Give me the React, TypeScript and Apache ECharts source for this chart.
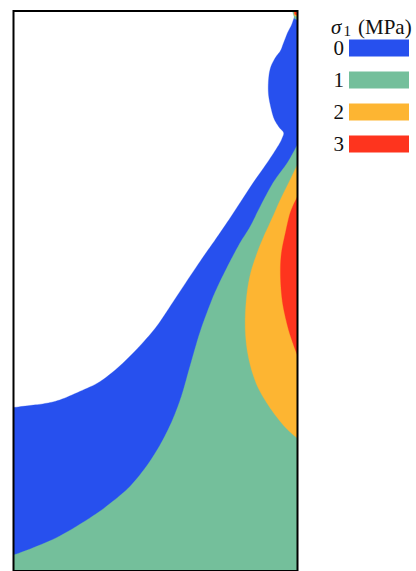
import React, { useEffect, useRef } from "react";
import * as echarts from "echarts";

// Contour levels of sigma_1 (MPa) and their fill colours
const levels = ["0", "1", "2", "3"];
const levelColors = ["#2750EE", "#74BF9B", "#FDB532", "#FE341E"];

// Domain: x from 0 (left) to 1 (right), y from 0 (bottom) to 2 (top)
// sigma_1 = 0 contour (white / blue), from the left edge to the top-right corner
const contour0: number[][] = [
  [0, 0.584], [0.057, 0.591], [0.11, 0.598], [0.163, 0.611], [0.233, 0.641],
  [0.304, 0.676], [0.375, 0.733], [0.445, 0.804], [0.505, 0.875], [0.562, 0.961],
  [0.622, 1.053], [0.675, 1.132], [0.707, 1.178], [0.753, 1.246], [0.799, 1.317],
  [0.845, 1.388], [0.894, 1.459], [0.933, 1.52], [0.947, 1.548], [0.951, 1.566],
  [0.936, 1.584], [0.919, 1.612], [0.908, 1.648], [0.898, 1.701], [0.898, 1.754],
  [0.905, 1.797], [0.922, 1.833], [0.94, 1.858], [0.951, 1.886], [0.965, 1.922],
  [0.979, 1.95], [0.989, 1.979], [0.996, 1.996],
];

// sigma_1 = 1 contour (blue / green), from the right edge to the left edge
const contour1: number[][] = [
  [1, 1.523], [0.965, 1.459], [0.915, 1.388], [0.869, 1.302], [0.834, 1.231],
  [0.799, 1.174], [0.767, 1.114], [0.735, 1.05], [0.71, 0.996], [0.693, 0.954],
  [0.657, 0.854], [0.622, 0.733], [0.594, 0.633], [0.569, 0.562], [0.541, 0.498],
  [0.505, 0.431], [0.463, 0.367], [0.41, 0.302], [0.35, 0.249], [0.279, 0.196],
  [0.163, 0.125], [0.067, 0.082], [0, 0.057],
];

// sigma_1 = 2 contour (green / orange), right edge back to right edge
const contour2: number[][] = [
  [1, 1.452], [0.975, 1.399], [0.94, 1.327], [0.912, 1.263], [0.883, 1.199],
  [0.859, 1.139], [0.834, 1.06], [0.82, 0.972], [0.816, 0.865], [0.827, 0.765],
  [0.855, 0.669], [0.898, 0.591], [0.951, 0.52], [1, 0.473],
];

// sigma_1 = 3 contour (orange / red), right edge back to right edge
const contour3: number[][] = [
  [1, 1.338], [0.975, 1.281], [0.958, 1.21], [0.943, 1.132], [0.94, 1.053],
  [0.947, 0.961], [0.965, 0.875], [0.982, 0.819], [1, 0.769],
];

// small singular spot at the top-right corner
const cornerGreen: number[][] = [[0.982, 2], [1, 2], [1, 1.968], [0.99, 1.972]];
const cornerOrange: number[][] = [[0.986, 2], [1, 2], [1, 1.979], [0.99, 1.983]];
const cornerRed: number[][] = [[0.989, 2], [0.997, 2], [0.997, 1.986], [0.99, 1.988]];

// Domain corners that close each filled region
const closeBlue: number[][] = [[1, 2], [1, 0], [0, 0]];
const closeGreen: number[][] = [[0, 0], [1, 0]];

type Region = { curve: number[][]; close: number[][]; smooth: boolean };
const regions: Region[][] = [
  [{ curve: contour0, close: closeBlue, smooth: true }],
  [{ curve: contour1, close: closeGreen, smooth: true }, { curve: cornerGreen, close: [], smooth: false }],
  [{ curve: contour2, close: [], smooth: true }, { curve: cornerOrange, close: [], smooth: false }],
  [{ curve: contour3, close: [], smooth: true }, { curve: cornerRed, close: [], smooth: false }],
];

// Catmull-Rom rendering of a contour polyline (screen space)
function smoothPath(pts: number[][]): number[][] {
  if (pts.length < 3) return pts;
  const out: number[][] = [];
  const n = pts.length;
  for (let i = 0; i < n - 1; i++) {
    const p0 = pts[Math.max(0, i - 1)];
    const p1 = pts[i];
    const p2 = pts[i + 1];
    const p3 = pts[Math.min(n - 1, i + 2)];
    const steps = 8;
    for (let s = 0; s < steps; s++) {
      const t = s / steps;
      const t2 = t * t;
      const t3 = t2 * t;
      const f = (a: number, b: number, c: number, d: number) =>
        0.5 * (2 * b + (-a + c) * t + (2 * a - 5 * b + 4 * c - d) * t2 + (-a + 3 * b - 3 * c + d) * t3);
      out.push([f(p0[0], p1[0], p2[0], p3[0]), f(p0[1], p1[1], p2[1], p3[1])]);
    }
  }
  out.push(pts[n - 1]);
  return out;
}

export default function App() {
  const ref = useRef<HTMLDivElement>(null);
  useEffect(() => {
    if (!ref.current) return;
    const chart = echarts.init(ref.current, undefined, { renderer: "svg" });
    const series = levels.map((name, i) => ({
      name,
      type: "custom",
      coordinateSystem: "cartesian2d",
      itemStyle: { color: levelColors[i] },
      data: regions[i][0].curve,
      silent: true,
      renderItem: (params: any, api: any) => {
        if (params.dataIndex !== 0) return null;
        return {
          type: "group",
          children: regions[i].map((r) => {
            const c = r.curve.map((p) => api.coord(p));
            const pts = (r.smooth ? smoothPath(c) : c).concat(r.close.map((p) => api.coord(p)));
            return {
              type: "polygon",
              shape: { points: pts },
              style: { fill: levelColors[i], stroke: levelColors[i], lineWidth: 0.3 },
            };
          }),
        };
      },
    }));
    chart.setOption({
      animation: false,
      backgroundColor: "#fff",
      grid: {
        left: 13.5, top: 11, width: 284, height: 563,
        show: true, z: 10, borderColor: "#000", borderWidth: 2, backgroundColor: "transparent",
      },
      xAxis: { type: "value", min: 0, max: 1, show: false },
      yAxis: { type: "value", min: 0, max: 2, show: false },
      legend: {
        orient: "vertical", left: 333.5, top: 37.5, align: "right", padding: 0,
        itemWidth: 60, itemHeight: 17, itemGap: 11, selectedMode: false,
        textStyle: { fontFamily: "Liberation Serif", fontSize: 21, color: "#111" },
        data: levels.map((n) => ({ name: n, icon: "rect" })),
      },
      graphic: [
        { type: "text", left: 331, top: 16, style: { text: "σ", font: 'italic 21px "Liberation Serif"', fill: "#111" } },
        { type: "text", left: 343.5, top: 23, style: { text: "1", font: '15px "Liberation Serif"', fill: "#111" } },
        { type: "text", left: 358, top: 16, style: { text: "(MPa)", font: '21px "Liberation Serif"', fill: "#111" } },
      ],
      series,
    });
    return () => chart.dispose();
  }, []);
  return (
    <div style={{ position: "absolute", left: 0, top: 0, width: 416, height: 571, overflow: "hidden" }}>
      <div ref={ref} style={{ width: 416, height: 571 }} />
    </div>
  );
}
